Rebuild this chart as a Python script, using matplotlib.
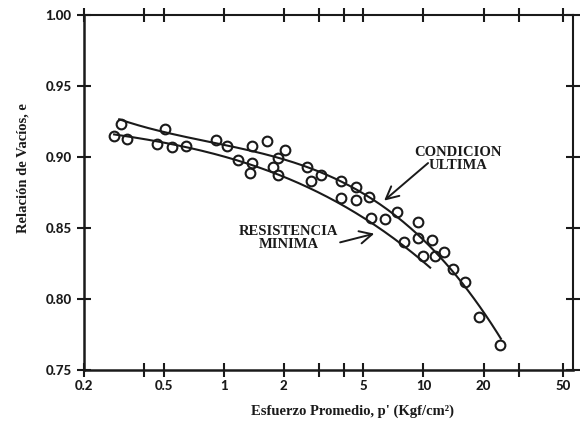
import numpy as np
import matplotlib
matplotlib.use("Agg")
import matplotlib.pyplot as plt
from matplotlib.ticker import FixedLocator, FixedFormatter, NullLocator

# Measured void ratio vs. mean effective stress
p_obs = [0.305, 0.283, 0.33, 0.51, 0.465, 0.55, 0.646, 0.92, 1.04, 1.18,
         1.39, 1.64, 1.39, 1.36, 2.03, 1.76, 1.88, 1.86, 2.6, 3.08,
         2.75, 3.86, 4.59, 5.35, 3.86, 4.59, 5.44, 6.45, 7.38, 9.44,
         7.96, 9.44, 11.0, 9.9, 11.4, 12.6, 14.1, 16.1, 18.9, 24.2]
e_obs = [0.923, 0.915, 0.9125, 0.920, 0.909, 0.907, 0.908, 0.912, 0.908, 0.898,
         0.908, 0.911, 0.8955, 0.8885, 0.905, 0.893, 0.887, 0.899, 0.893, 0.887,
         0.883, 0.883, 0.879, 0.872, 0.871, 0.870, 0.857, 0.856, 0.8615, 0.854,
         0.840, 0.843, 0.8415, 0.830, 0.830, 0.833, 0.821, 0.812, 0.7875, 0.7676]

# Trend lines (knots of each hand-fitted curve)
p_ultima = [0.30, 0.51, 0.92, 1.08, 1.92, 2.7, 6.0, 7.5, 12.8, 16.7, 20.2, 24.4]
e_ultima = [0.924, 0.920, 0.912, 0.910, 0.898, 0.8855, 0.865, 0.859, 0.830, 0.809, 0.790, 0.7676]
p_minima = [0.283, 0.648, 1.17, 1.91, 2.7, 4.42, 6.45, 10.8]
e_minima = [0.9155, 0.908, 0.898, 0.8866, 0.8757, 0.8627, 0.849, 0.821]

x_major = [0.2, 0.5, 1, 2, 5, 10, 20, 50]
x_major_labels = ["0.2", "0.5", "1", "2", "5", "10", "20", "50"]
x_minor = [0.4, 3, 4, 30]
y_ticks = [0.75, 0.80, 0.85, 0.90, 0.95, 1.00]
y_labels = ["0.75", "0.80", "0.85", "0.90", "0.95", "1.00"]

serif = ["Liberation Serif", "DejaVu Serif"]
tickfont = ["Lato", "DejaVu Sans"]
ink = "#1a1a1a"

fig = plt.figure(figsize=(5.84, 4.32), dpi=100)
ax = fig.add_axes([84 / 584, 1 - 370 / 432, (573 - 84) / 584, (370 - 15) / 432])


def smooth(px, py, n=200):
    lx = np.log10(px)
    coef = np.polyfit(lx, py, 3)
    xs = np.linspace(lx[0], lx[-1], n)
    return 10 ** xs, np.polyval(coef, xs)


for px, py in ((p_ultima, e_ultima), (p_minima, e_minima)):
    xs, ys = smooth(px, py)
    ax.plot(xs, ys, color=ink, lw=1.5, zorder=2)

ax.plot(p_obs, e_obs, linestyle="none", marker="o", markersize=7,
        markerfacecolor="none", markeredgecolor=ink, markeredgewidth=1.5,
        zorder=3)

ax.set_xscale("log")
ax.set_xlim(0.2, 56)
ax.set_ylim(0.75, 1.00)

ax.xaxis.set_major_locator(FixedLocator(x_major))
ax.xaxis.set_major_formatter(FixedFormatter(x_major_labels))
ax.xaxis.set_minor_locator(FixedLocator(x_minor))
ax.yaxis.set_major_locator(FixedLocator(y_ticks))
ax.yaxis.set_major_formatter(FixedFormatter(y_labels))
ax.yaxis.set_minor_locator(NullLocator())

ax.tick_params(axis="both", which="both", direction="inout", top=True, right=True,
               length=10, width=1.5, color=ink)
ax.tick_params(axis="x", which="both", pad=2)
ax.tick_params(axis="y", which="both", pad=4)
for lab in ax.get_xticklabels() + ax.get_yticklabels():
    lab.set_family(tickfont)
    lab.set_fontweight("black")
    lab.set_fontsize(9.5)
    lab.set_color(ink)

for side, sp in ax.spines.items():
    sp.set_linewidth(1.8 if side in ("left", "bottom") else 1.5)
    sp.set_color(ink)

ax.set_xlabel("Esfuerzo Promedio, p' (Kgf/cm²)", family=serif, fontweight="bold",
              fontsize=10.5, color=ink)
ax.xaxis.set_label_coords(0.55, -0.098)
ax.set_ylabel("Relación de Vacíos, e", family=serif, fontweight="bold",
              fontsize=10.5, color=ink)
ax.yaxis.set_label_coords(-0.112, 0.57)

arrow = dict(arrowstyle="->,head_length=0.9,head_width=0.45", color=ink, lw=1.4)
ax.text(14.8, 0.8986, "CONDICION\nULTIMA", ha="center", va="center", family=serif,
        fontweight="bold", fontsize=10.5, linespacing=1.0, color=ink)
ax.annotate("", xy=(6.2, 0.868), xytext=(10.8, 0.897), arrowprops=arrow)
ax.text(2.12, 0.843, "RESISTENCIA\nMINIMA", ha="center", va="center", family=serif,
        fontweight="bold", fontsize=10.5, linespacing=1.0, color=ink)
ax.annotate("", xy=(5.85, 0.8465), xytext=(3.71, 0.8394), arrowprops=arrow)

fig.savefig("out.png", dpi=100)
